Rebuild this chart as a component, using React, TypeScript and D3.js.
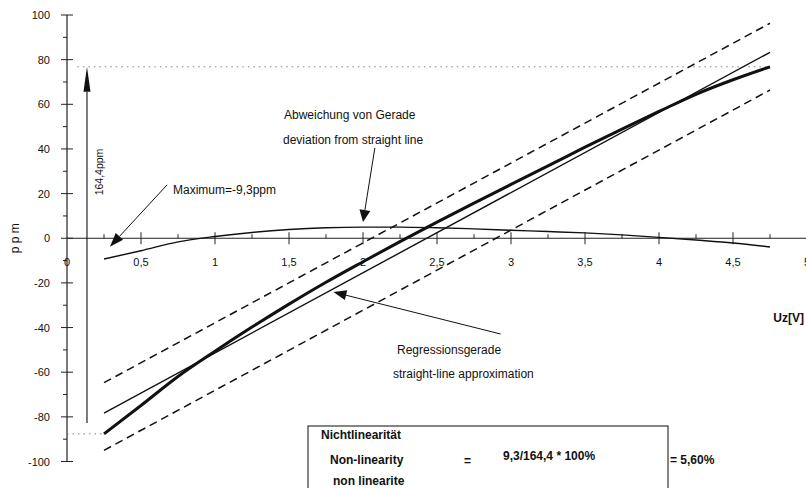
import React from "react";
import * as d3 from "d3";

// Sample voltages (V) for the measured characteristic and its deviation
const voltages = [0.25, 0.5, 0.75, 1, 1.25, 1.5, 1.75, 2, 2.25, 2.5, 2.75, 3, 3.25, 3.5, 3.75, 4, 4.25, 4.5, 4.75];
// Measured characteristic (ppm)
const measured = [-87.6, -74.9, -61.9, -50.6, -39.8, -29.5, -19.7, -10.5, -1.5, 7.2, 15.7, 24.1, 32.4, 40.8, 48.9, 56.8, 64.5, 71.0, 76.8];
// Deviation from straight line (ppm)
const deviation = [-9.3, -5.6, -1.6, 0.8, 2.6, 3.9, 4.7, 5.0, 5.0, 4.7, 4.2, 3.6, 3.0, 2.4, 1.5, 0.4, -0.8, -2.1, -3.9];

// Straight lines, given at both ends of the voltage range
const lineEnds = [0.25, 4.75];
const regression = [-78.3, 83.3];
const upperBand = [-64.7, 96.3];
const lowerBand = [-95.0, 66.4];

// Span of the characteristic (ppm)
const spanTop = 76.8;
const spanBottom = -87.6;

const xTicks = [0, 0.5, 1, 1.5, 2, 2.5, 3, 3.5, 4, 4.5, 5];
const xTickLabels = ["0", "0,5", "1", "1,5", "2", "2,5", "3", "3,5", "4", "4,5", "5"];
const xMinorTicks = [0.25, 0.75, 1.25, 1.75, 2.25, 2.75, 3.25, 3.75, 4.25, 4.75];
const yTicks = [-100, -80, -60, -40, -20, 0, 20, 40, 60, 80, 100];
const yMinorTicks = [-90, -70, -50, -30, -10, 10, 30, 50, 70, 90];

const W = 806;
const H = 488;
const FONT = "'Liberation Sans', Arial, Helvetica, sans-serif";
const INK = "#111";

const x = d3.scaleLinear().domain([0, 5]).range([67, 807]);
const y = d3.scaleLinear().domain([-100, 100]).range([461.5, 15]);

function Arrow({ x1, y1, x2, y2, len, wid, sw = 1 }: { x1: number; y1: number; x2: number; y2: number; len: number; wid: number; sw?: number }) {
  const dx = x2 - x1;
  const dy = y2 - y1;
  const d = Math.hypot(dx, dy);
  const ux = dx / d;
  const uy = dy / d;
  const bx = x2 - ux * len;
  const by = y2 - uy * len;
  const px = -uy * (wid / 2);
  const py = ux * (wid / 2);
  return (
    <g>
      <line x1={x1} y1={y1} x2={bx} y2={by} stroke={INK} strokeWidth={sw} />
      <polygon points={`${x2},${y2} ${bx + px},${by + py} ${bx - px},${by - py}`} fill={INK} />
    </g>
  );
}

export default function App() {
  const curve = d3
    .line<number>()
    .x((_, i) => x(voltages[i]))
    .y((v) => y(v))
    .curve(d3.curveMonotoneX);
  const straight = d3
    .line<number>()
    .x((_, i) => x(lineEnds[i]))
    .y((v) => y(v));

  const y0 = y(0);

  return (
    <svg width={W} height={H} style={{ position: "absolute", left: 0, top: 0, background: "#fff" }} fontFamily={FONT}>
      <rect width={W} height={H} fill="#fff" />

      {/* axes */}
      <line x1={x(0)} y1={y(100)} x2={x(0)} y2={y(-100)} stroke="#222" strokeWidth={1.2} />
      <line x1={x(0)} y1={y0} x2={W} y2={y0} stroke="#222" strokeWidth={1.2} />
      {yTicks.map((t) => (
        <g key={"y" + t}>
          <line x1={x(0) - 6} x2={x(0) + 6} y1={y(t)} y2={y(t)} stroke="#222" strokeWidth={1} />
          <text x={50} y={y(t)} textAnchor="end" dominantBaseline="central" fontSize={11} fill={INK}>
            {t}
          </text>
        </g>
      ))}
      {yMinorTicks.map((t) => (
        <line key={"ym" + t} x1={x(0) - 4} x2={x(0)} y1={y(t)} y2={y(t)} stroke="#222" strokeWidth={1} />
      ))}
      {xTicks.map((t, i) => (
        <g key={"x" + t}>
          {t > 0 && <line x1={x(t)} x2={x(t)} y1={y0 - 6} y2={y0 + 6} stroke="#222" strokeWidth={1} />}
          <text x={x(t)} y={262} textAnchor="middle" dominantBaseline="central" fontSize={11} fill={INK}>
            {xTickLabels[i]}
          </text>
        </g>
      ))}
      {xMinorTicks.map((t) => (
        <line key={"xm" + t} x1={x(t)} x2={x(t)} y1={y0 - 4} y2={y0} stroke="#222" strokeWidth={1} />
      ))}

      <text transform={`translate(15,${y0}) rotate(-90)`} textAnchor="middle" dominantBaseline="central" fontSize={12} fill={INK}>
        p p m
      </text>
      <text x={804} y={318} textAnchor="end" dominantBaseline="central" fontSize={12} fontWeight="bold" fill={INK}>
        Uz[V]
      </text>

      {/* span markers */}
      <line x1={x(0.07)} x2={x(4.75)} y1={y(spanTop)} y2={y(spanTop)} stroke="#666" strokeWidth={0.8} strokeDasharray="1.5,4" />
      <line x1={x(0)} x2={x(0.25)} y1={y(spanBottom)} y2={y(spanBottom)} stroke="#666" strokeWidth={0.8} strokeDasharray="1.5,4" />
      <Arrow x1={x(0.135)} y1={y(-82.8)} x2={x(0.135)} y2={y(spanTop)} len={25} wid={7} sw={1.1} />
      <text transform={`translate(99,172) rotate(-90)`} textAnchor="middle" dominantBaseline="central" fontSize={10.5} fill={INK}>
        164,4ppm
      </text>

      {/* tolerance band */}
      <path d={straight(upperBand) || ""} fill="none" stroke={INK} strokeWidth={1.5} strokeDasharray="8,5" />
      <path d={straight(lowerBand) || ""} fill="none" stroke={INK} strokeWidth={1.5} strokeDasharray="8,5" />
      {/* regression line */}
      <path d={straight(regression) || ""} fill="none" stroke={INK} strokeWidth={1.4} />
      {/* measured characteristic */}
      <path d={curve(measured) || ""} fill="none" stroke={INK} strokeWidth={3} strokeLinejoin="round" />
      {/* deviation */}
      <path d={curve(deviation) || ""} fill="none" stroke={INK} strokeWidth={1.4} />

      {/* annotations */}
      <Arrow x1={x(0.676)} y1={y(23.9)} x2={x(0.29)} y2={y(-3.8)} len={14} wid={10} />
      <text x={173} y={190} dominantBaseline="central" fontSize={12} fill={INK}>
        Maximum=-9,3ppm
      </text>
      <text x={284} y={115} dominantBaseline="central" fontSize={12} fill={INK}>
        Abweichung von Gerade
      </text>
      <text x={283} y={140} dominantBaseline="central" fontSize={12} fill={INK}>
        deviation from straight line
      </text>
      <Arrow x1={x(2.08)} y1={y(40.4)} x2={x(2.0)} y2={y(7.3)} len={12} wid={11} />
      <Arrow x1={x(2.93)} y1={y(-42.9)} x2={x(1.8)} y2={y(-24.1)} len={13} wid={10} />
      <text x={397} y={350} dominantBaseline="central" fontSize={12} fill={INK}>
        Regressionsgerade
      </text>
      <text x={393} y={374} dominantBaseline="central" fontSize={12} fill={INK}>
        straight-line approximation
      </text>

      {/* result box */}
      <rect x={308} y={426} width={360} height={70} fill="none" stroke="#222" strokeWidth={1.1} />
      <g fontSize={12} fontWeight="bold" fill={INK}>
        <text x={321} y={435} dominantBaseline="central">Nichtlinearität</text>
        <text x={330} y={460} dominantBaseline="central">Non-linearity</text>
        <text x={464} y={461} dominantBaseline="central">=</text>
        <text x={503} y={456} dominantBaseline="central">9,3/164,4 * 100%</text>
        <text x={670} y={460} dominantBaseline="central">= 5,60%</text>
        <text x={333} y={481} dominantBaseline="central">non linearite</text>
      </g>
    </svg>
  );
}
